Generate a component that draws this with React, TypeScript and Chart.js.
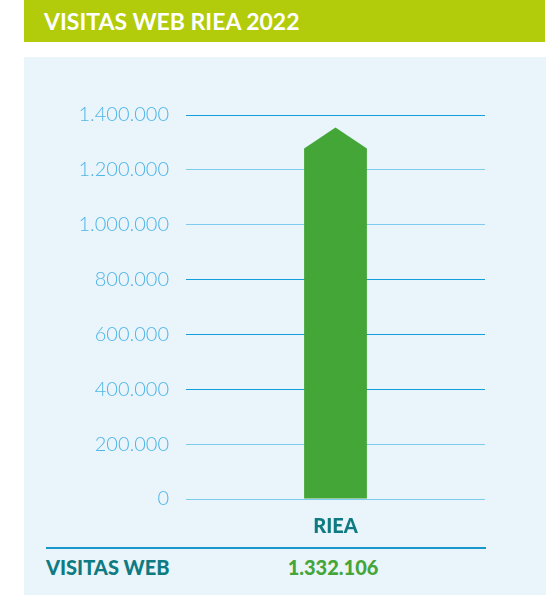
import React, { useEffect, useRef } from "react";
import { Chart, registerables } from "chart.js";

Chart.register(...registerables);

const title = "VISITAS WEB RIEA 2022";
const categories = ["RIEA"];
const seriesLabel = "VISITAS WEB";
const visitas = [1332106];
const yTicks = [0, 200000, 400000, 600000, 800000, 1000000, 1200000, 1400000];

const fmt = (n: number) => String(n).replace(/\B(?=(\d{3})+(?!\d))/g, ".");

const FONT = "Lato, 'Open Sans', sans-serif";

const arrowBars = {
  id: "arrowBars",
  beforeDatasetDraw(chart: any, args: any) {
    const meta = chart.getDatasetMeta(args.index);
    const ctx = chart.ctx;
    ctx.save();
    meta.data.forEach((el: any, i: number) => {
      const { x, y, base, width } = el.getProps(["x", "y", "base", "width"], true);
      const half = width / 2;
      ctx.beginPath();
      ctx.moveTo(x - half, base);
      ctx.lineTo(x - half, y + 15);
      ctx.lineTo(x, y - 6);
      ctx.lineTo(x + half, y + 15);
      ctx.lineTo(x + half, base);
      ctx.closePath();
      const bg = chart.data.datasets[args.index].backgroundColor;
      ctx.fillStyle = Array.isArray(bg) ? bg[i] : bg;
      ctx.fill();
    });
    ctx.restore();
    return false;
  },
};

const darkTicks = [400000, 600000, 800000, 1400000];

export default function App() {
  const ref = useRef<HTMLCanvasElement>(null);
  useEffect(() => {
    const chart = new Chart(ref.current!, {
      type: "bar",
      data: {
        labels: categories,
        datasets: [
          {
            label: seriesLabel,
            data: visitas,
            backgroundColor: "#43a637",
            barPercentage: 0.21,
            categoryPercentage: 1,
          },
        ],
      },
      plugins: [arrowBars],
      options: {
        animation: false,
        responsive: false,
        maintainAspectRatio: false,
        layout: { padding: { left: 0, right: 71, top: 115, bottom: 0 } },
        plugins: { legend: { display: false }, tooltip: { enabled: false } },
        scales: {
          x: {
            grid: { display: false, drawTicks: false },
            border: { display: false },
            ticks: {
              color: "#0e7b82",
              padding: 16,
              font: { family: FONT, size: 20, weight: "900" },
            },
            afterFit: (s: any) => {
              s.height = 41;
            },
          },
          y: {
            min: 0,
            max: yTicks[yTicks.length - 1],
            afterBuildTicks: (s: any) => {
              s.ticks = yTicks.map((v) => ({ value: v }));
            },
            grid: {
              drawTicks: false,
              color: (c: any) =>
                darkTicks.includes(c.tick?.value) ? "#12a0dc" : "#7fcbee",
              lineWidth: 1,
            },
            border: { display: false },
            ticks: {
              color: "#4fb6e6",
              padding: 17,
              font: { family: FONT, size: 20, weight: "300" },
              callback: (v: any) => fmt(Number(v)),
            },
            afterFit: (s: any) => {
              s.width = 186;
            },
          },
        },
      },
    });
    return () => chart.destroy();
  }, []);

  return (
    <div style={{ position: "fixed", left: 0, top: 0, width: 556, height: 595, background: "#fff", overflow: "hidden" }}>
      <div
        style={{
          position: "absolute",
          left: 24,
          top: 0,
          width: 521,
          height: 42,
          background: "#b2cb0a",
          color: "#fff",
          fontFamily: FONT,
          fontWeight: 700,
          fontSize: 23,
          lineHeight: "42px",
          paddingLeft: 20,
          boxSizing: "border-box",
          whiteSpace: "nowrap",
        }}
      >
        {title}
      </div>
      <div style={{ position: "absolute", left: 24, top: 57, width: 522, height: 538, background: "#eaf4fb" }} />
      <canvas ref={ref} width={556} height={540} style={{ position: "absolute", left: 0, top: 0, width: 556, height: 540 }} />
      <div style={{ position: "absolute", left: 46, top: 547, width: 440, height: 2, background: "#1996cc" }} />
      <div
        style={{
          position: "absolute",
          left: 46,
          top: 554,
          lineHeight: "26px",
          fontFamily: FONT,
          fontWeight: 900,
          fontSize: 20,
          color: "#0e7b82",
          whiteSpace: "nowrap",
        }}
      >
        {seriesLabel}
      </div>
      <div
        style={{
          position: "absolute",
          left: 233,
          width: 200,
          top: 554,
          lineHeight: "26px",
          textAlign: "center",
          fontFamily: FONT,
          fontWeight: 900,
          fontSize: 20,
          color: "#44a538",
          whiteSpace: "nowrap",
        }}
      >
        {fmt(visitas[0])}
      </div>
    </div>
  );
}
